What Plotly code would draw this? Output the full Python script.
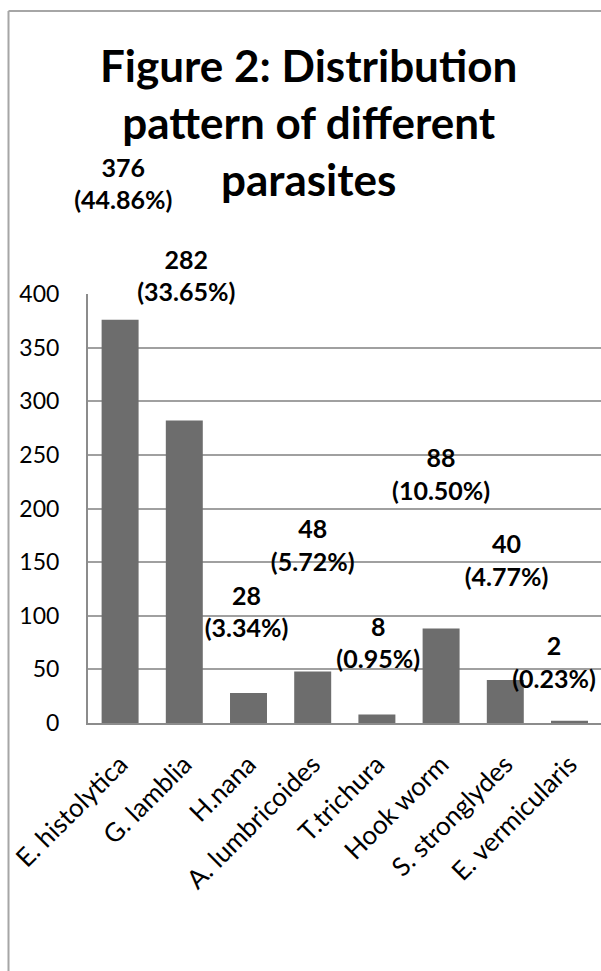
import plotly.graph_objects as go

# ---- data ----
categories = ["E. histolytica", "G. lamblia", "H.nana", "A. lumbricoides",
              "T.trichura", "Hook worm", "S. stronglydes", "E. vermicularis"]
counts = [376, 282, 28, 48, 8, 88, 40, 2]
percents = ["44.86%", "33.65%", "3.34%", "5.72%", "0.95%", "10.50%", "4.77%", "0.23%"]
y_ticks = [0, 50, 100, 150, 200, 250, 300, 350, 400]

# ---- label placement (data units, layout only) ----
label_y = [500, 414, 101, 163, 72, 229, 149, 54]
label_dx = [0.05, 0.03, -0.03, 0.0, 0.02, 0.0, 0.02, -0.24]

W, H = 601, 971
FONT = "Lato, sans-serif"
idx = list(range(len(categories)))

x0_px, x1_px = 88, 601
y0_px, y1_px = 723, 294
cat_w = 64.2
px_per_unit = (y0_px - y1_px) / 400.0
label_range_top = 560
y2_top_px = y0_px - label_range_top * px_per_unit

fig = go.Figure()
fig.add_trace(go.Bar(
    x=idx, y=counts,
    marker=dict(color="#6d6d6d", line=dict(width=0)),
    hoverinfo="skip",
))
fig.add_trace(go.Scatter(
    x=[i + d for i, d in zip(idx, label_dx)], y=label_y,
    xaxis="x", yaxis="y2",
    mode="text",
    text=[f"<b>{c}</b><br><b>({p})</b>" for c, p in zip(counts, percents)],
    textposition="middle center",
    textfont=dict(family=FONT, size=25, color="#000000"),
    cliponaxis=False, hoverinfo="skip",
))

fig.add_annotation(
    x=308 / W, y=1 - 122 / H, xref="paper", yref="paper",
    text="<b>Figure 2: Distribution</b><br><b>pattern of different</b><br><b>parasites</b>",
    showarrow=False, xanchor="center", yanchor="middle", align="center",
    font=dict(family=FONT, size=44, color="#000000"),
)

# outer chart border (left and top visible, right/bottom cropped)
fig.add_shape(type="line", xref="paper", yref="paper",
              x0=8.5 / W, x1=8.5 / W, y0=-0.05, y1=1 - 11 / H,
              line=dict(color="#a6a6a6", width=2))
fig.add_shape(type="line", xref="paper", yref="paper",
              x0=8.5 / W, x1=1.05, y0=1 - 11 / H, y1=1 - 11 / H,
              line=dict(color="#a6a6a6", width=2))

fig.update_layout(
    width=W, height=H,
    margin=dict(l=0, r=0, t=0, b=0, autoexpand=False),
    paper_bgcolor="white", plot_bgcolor="rgba(0,0,0,0)",
    showlegend=False,
    bargap=0.424,
    font=dict(family=FONT, color="#000000"),
    xaxis=dict(
        domain=[x0_px / W, 1.0],
        range=[-0.5, -0.5 + (x1_px - x0_px) / cat_w],
        tickmode="array", tickvals=idx, ticktext=categories,
        tickangle=-45, automargin=False, ticklabelstandoff=14,
        tickfont=dict(family=FONT, size=26, color="#000000"),
        showline=True, linecolor="#8c8c8c", linewidth=2,
        showgrid=False, ticks="", zeroline=False,
    ),
    yaxis=dict(
        domain=[1 - y0_px / H, 1 - y1_px / H],
        range=[0, 400], automargin=False,
        tickvals=y_ticks,
        tickfont=dict(family=FONT, size=23, color="#000000"),
        showline=True, linecolor="#8c8c8c", linewidth=2,
        showgrid=True, gridcolor="#a0a0a0", gridwidth=2,
        zeroline=False, ticks="", ticklabelstandoff=22,
    ),
    yaxis2=dict(
        domain=[1 - y0_px / H, 1 - y2_top_px / H],
        range=[0, label_range_top], anchor="x",
        visible=False, showgrid=False, zeroline=False, automargin=False,
    ),
)

fig.write_html("out.html")
